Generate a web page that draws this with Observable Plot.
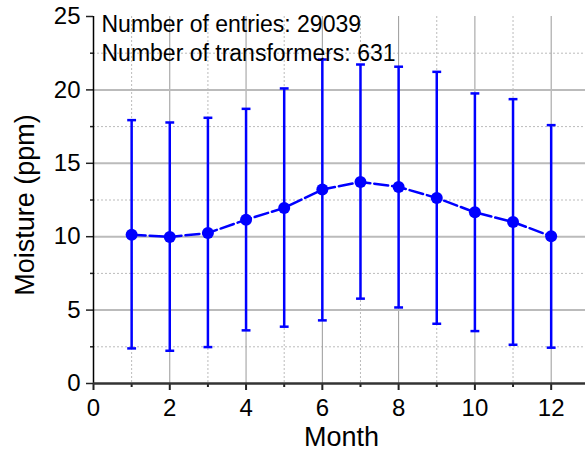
<!DOCTYPE html>
<html>
<head>
<meta charset="utf-8">
<script src="https://cdn.jsdelivr.net/npm/d3@7"></script>
<script src="https://cdn.jsdelivr.net/npm/@observablehq/plot@0.6"></script>
<style>
  html, body { margin: 0; padding: 0; background: #fff; }
  #chart svg { display: block; }
</style>
</head>
<body>
<div id="chart"></div>
<script>
const months = [1, 2, 3, 4, 5, 6, 7, 8, 9, 10, 11, 12];
const meanMoisture = [10.14, 9.98, 10.25, 11.16, 11.96, 13.21, 13.73, 13.39, 12.64, 11.66, 11.0, 10.03];
const upperMoisture = [17.94, 17.78, 18.1, 18.71, 20.1, 22.07, 21.73, 21.58, 21.23, 19.76, 19.37, 17.6];
const lowerMoisture = [2.39, 2.23, 2.48, 3.62, 3.87, 4.3, 5.78, 5.18, 4.07, 3.57, 2.64, 2.44];
const xMajorTicks = [0, 2, 4, 6, 8, 10, 12];
const xMinorTicks = [1, 3, 5, 7, 9, 11];
const yMajorTicks = [0, 5, 10, 15, 20, 25];
const yMinorTicks = [2.5, 7.5, 12.5, 17.5, 22.5];
const xTitle = "Month";
const yTitle = "Moisture (ppm)";
const notes = ["Number of entries: 29039", "Number of transformers: 631"];

const data = months.map((m, i) => ({
  month: m, mean: meanMoisture[i], low: lowerMoisture[i], high: upperMoisture[i]
}));

const blue = "#0000ff";
const capSymbol = {
  draw(context, size) {
    const w = Math.sqrt(size) / 2;
    context.moveTo(-w, 0);
    context.lineTo(w, 0);
  }
};

const chart = Plot.plot({
  width: 585,
  height: 454,
  marginLeft: 93,
  marginRight: 0,
  marginTop: 16,
  marginBottom: 71,
  style: { fontFamily: "'Liberation Sans', Arial, sans-serif", fontSize: "24px", color: "#000", background: "#fff" },
  x: { domain: [0, 12.9] },
  y: { domain: [0, 25] },
  marks: [
    Plot.gridX(xMinorTicks, { stroke: "#bbb", strokeOpacity: 1, strokeDasharray: "2,2", strokeWidth: 1 }),
    Plot.gridY(yMinorTicks, { stroke: "#bbb", strokeOpacity: 1, strokeDasharray: "2,2", strokeWidth: 1 }),
    Plot.gridX(xMajorTicks.filter(d => d > 0), { stroke: "#999", strokeOpacity: 1, strokeWidth: 1 }),
    Plot.gridY(yMajorTicks.filter(d => d > 0 && d < 25), { stroke: "#bbb", strokeOpacity: 1, strokeWidth: 2 }),
    Plot.axisX(xMinorTicks, { tickSize: 4, text: null, label: null, stroke: "#222", strokeWidth: 2 }),
    Plot.axisX(xMajorTicks, { tickSize: 7, tickPadding: 8, stroke: "#222", strokeWidth: 2, label: null }),
    Plot.axisY(yMinorTicks, { tickSize: 3, text: null, label: null, stroke: "#222", strokeWidth: 1.5 }),
    Plot.axisY(yMajorTicks, { tickSize: 7, tickPadding: 6, stroke: "#222", strokeWidth: 1.5, label: null }),
    Plot.text([xTitle], { frameAnchor: "bottom", textAnchor: "middle", lineAnchor: "bottom", dy: 62, dx: 2, fontSize: 27, fill: "#000" }),
    Plot.text([yTitle], { frameAnchor: "left", textAnchor: "middle", lineAnchor: "middle", rotate: -90, dx: -68, dy: 5, fontSize: 27, fill: "#000" }),
    Plot.ruleX([0], { stroke: "#000", strokeWidth: 1.5 }),
    Plot.ruleY([0], { stroke: "#333", strokeWidth: 2.5 }),
    Plot.ruleX(data, { x: "month", y1: "low", y2: "high", stroke: blue, strokeWidth: 2.5 }),
    Plot.dot(data, { x: "month", y: "high", symbol: capSymbol, r: 5, stroke: blue, strokeWidth: 2.5, fill: "none" }),
    Plot.dot(data, { x: "month", y: "low", symbol: capSymbol, r: 5, stroke: blue, strokeWidth: 2.5, fill: "none" }),
    Plot.line(data, { x: "month", y: "mean", stroke: blue, strokeWidth: 2.5, strokeDasharray: "14,4" }),
    Plot.dot(data, { x: "month", y: "mean", r: 6, fill: blue, stroke: "none" }),
    Plot.text([notes.join("\n")], { frameAnchor: "top-left", dx: 8, dy: -5, lineHeight: 1.27, fontSize: 23, fill: "#000", textAnchor: "start" })
  ]
});

document.getElementById("chart").appendChild(chart);
</script>
</body>
</html>
